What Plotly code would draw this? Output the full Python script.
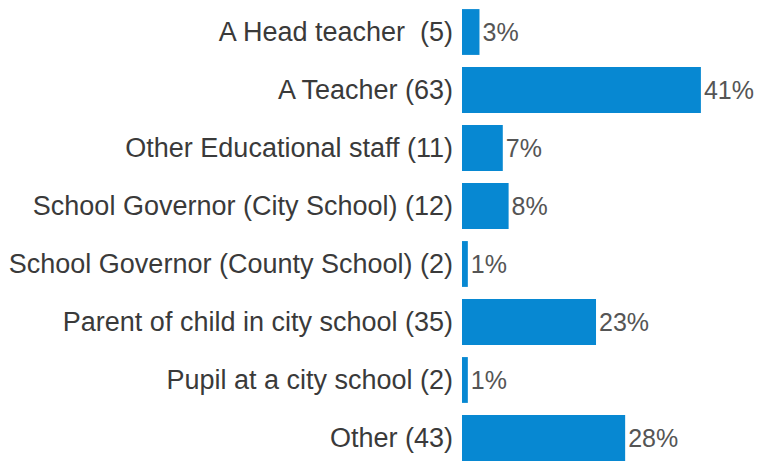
import plotly.graph_objects as go

categories = [
    "A Head teacher  (5)",
    "A Teacher (63)",
    "Other Educational staff (11)",
    "School Governor (City School) (12)",
    "School Governor (County School) (2)",
    "Parent of child in city school (35)",
    "Pupil at a city school (2)",
    "Other (43)",
]
percents = [3, 41, 7, 8, 1, 23, 1, 28]
pct_labels = ["3%", "41%", "7%", "8%", "1%", "23%", "1%", "28%"]

fig = go.Figure(
    go.Bar(
        x=percents,
        y=categories,
        orientation="h",
        marker=dict(color="#0788D2", line=dict(width=0)),
        width=0.79,
        text=pct_labels,
        textposition="outside",
        textfont=dict(family="Liberation Sans, Arial, sans-serif", size=25, color="#555555"),
        cliponaxis=False,
        hoverinfo="skip",
    )
)

fig.update_layout(
    width=758,
    height=462,
    margin=dict(l=462, r=0, t=3, b=0),
    paper_bgcolor="white",
    plot_bgcolor="white",
    showlegend=False,
    font=dict(family="Liberation Sans, Arial, sans-serif", size=27, color="#3a3a3a"),
    xaxis=dict(range=[0, 50.8], visible=False, fixedrange=True),
    yaxis=dict(
        type="category",
        range=[7.414, -0.5],
        showgrid=False,
        zeroline=False,
        showline=False,
        ticks="",
        ticklabelstandoff=8,
        tickfont=dict(size=27, color="#3a3a3a"),
    ),
)

fig.write_html(
    "out.html",
    config={"displayModeBar": False},
    post_script="document.body.style.margin='0';document.body.style.padding='0';",
)
